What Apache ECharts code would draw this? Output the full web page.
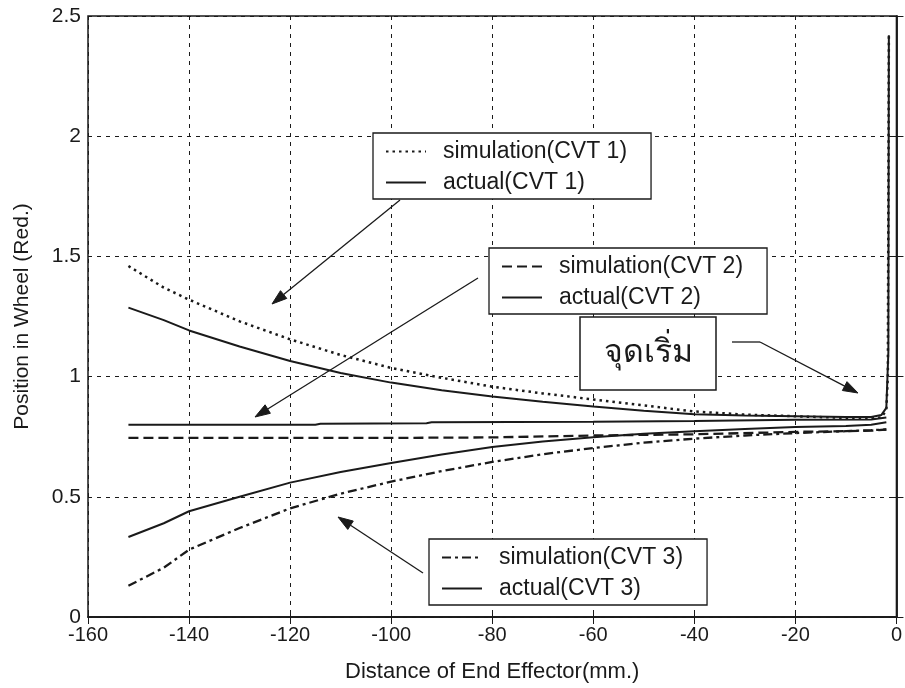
<!DOCTYPE html>
<html><head><meta charset="utf-8">
<script src="https://cdn.jsdelivr.net/npm/echarts@6/dist/echarts.min.js"></script>
<style>html,body{margin:0;padding:0;background:#fff}#c{width:905px;height:688px}</style>
</head><body><div id="c"></div>
<script>
// ---- data ----
var xTicks = [-160,-140,-120,-100,-80,-60,-40,-20,0];
var yTicks = [0,0.5,1,1.5,2,2.5];

var simCVT1X = [-152,-145,-140,-130,-120,-110,-100,-90,-80,-70,-60,-50,-40,-30,-20,-10,-5,-3,-2,-1.7,-1.5];
var simCVT1Y = [1.46,1.37,1.32,1.23,1.155,1.09,1.036,0.995,0.958,0.93,0.905,0.88,0.855,0.842,0.835,0.828,0.825,0.83,0.86,1.0,2.42];

var actCVT1X = [-152,-145,-140,-130,-120,-110,-100,-90,-80,-70,-60,-50,-40,-30,-20,-10,-5,-3,-2,-1.6,-1.5];
var actCVT1Y = [1.287,1.235,1.192,1.125,1.065,1.015,0.975,0.943,0.917,0.895,0.876,0.858,0.843,0.838,0.835,0.832,0.832,0.84,0.87,1.1,2.42];

var simCVT2X = [-152,-120,-100,-80,-60,-40,-20,-5,-2];
var simCVT2Y = [0.745,0.745,0.745,0.747,0.755,0.76,0.77,0.775,0.78];

var actCVT2X = [-152,-115,-114,-93,-92,-60,-40,-20,-5,-2];
var actCVT2Y = [0.80,0.80,0.804,0.806,0.81,0.812,0.815,0.82,0.822,0.83];

var simCVT3X = [-152,-145,-140,-130,-120,-110,-100,-90,-80,-70,-60,-50,-40,-30,-20,-10,-5,-2];
var simCVT3Y = [0.13,0.205,0.28,0.37,0.452,0.513,0.563,0.607,0.645,0.677,0.703,0.725,0.742,0.755,0.765,0.773,0.777,0.78];

var actCVT3X = [-152,-145,-140,-130,-120,-110,-100,-90,-80,-70,-60,-50,-40,-30,-20,-10,-5,-2];
var actCVT3Y = [0.333,0.39,0.44,0.50,0.559,0.603,0.641,0.676,0.707,0.73,0.748,0.762,0.773,0.782,0.79,0.795,0.80,0.81];

var names = ['simulation(CVT 1)','actual(CVT 1)','simulation(CVT 2)','actual(CVT 2)','simulation(CVT 3)','actual(CVT 3)'];
var startLabel = 'จุดเริ่ม';

function pairs(xs, ys){ return xs.map(function(x,i){ return [x, ys[i]]; }); }

var FONT = 'Liberation Sans, Arial, sans-serif';
var INK = '#1a1a1a';

function lineSeries(name, xs, ys, type, width){
  return {
    name: name, type: 'line', data: pairs(xs, ys), symbol: 'none', smooth: false,
    lineStyle: { color: INK, width: width, type: type },
    itemStyle: { color: INK },
    z: 3, silent: true, animation: false
  };
}

function arrow(x1,y1,x2,y2){
  var dx=x2-x1, dy=y2-y1, L=Math.sqrt(dx*dx+dy*dy), ux=dx/L, uy=dy/L;
  var hl=15, hw=5;
  var bx=x2-ux*hl, by=y2-uy*hl, nx=-uy, ny=ux;
  return [
    { type:'line', shape:{x1:x1,y1:y1,x2:bx,y2:by}, style:{stroke:INK, lineWidth:1.3}, z:100 },
    { type:'polygon', shape:{points:[[x2,y2],[bx+nx*hw,by+ny*hw],[bx-nx*hw,by-ny*hw]]}, style:{fill:INK, stroke:INK}, z:100 }
  ];
}

function legendBox(data, left, top){
  return {
    data: data, left: left, top: top, orient: 'vertical', selectedMode: false,
    itemWidth: 40, itemHeight: 14, itemGap: 8,
    padding: [7, 24, 5, 12],
    itemStyle: { opacity: 0 },
    backgroundColor: '#fff', borderColor: INK, borderWidth: 1.3,
    textStyle: { fontFamily: FONT, fontSize: 23, lineHeight: 20, color: INK, padding: [0,0,0,12] },
    z: 50
  };
}

var chart = echarts.init(document.getElementById('c'), null, {renderer:'canvas'});

var graphics = [
  { type:'rect', shape:{x:580,y:317,width:136,height:73}, style:{fill:'#fff', stroke:INK, lineWidth:1.5}, z:90 },
  { type:'text', x:648, y:354, style:{text:startLabel, fontSize:32, fontFamily:'DejaVu Sans, Noto Sans, sans-serif', fill:INK, align:'center', verticalAlign:'middle'}, z:91 },
  { type:'polyline', shape:{points:[[732,342],[760,342]]}, style:{stroke:INK, lineWidth:1.3}, z:100 }
].concat(arrow(760,342,858,393))
 .concat(arrow(400,200,272,304))
 .concat(arrow(478,278,255,417))
 .concat(arrow(423,573,338,517));

var option = {
  backgroundColor: '#fff',
  animation: false,
  grid: { left: 88, right: 6, top: 16, bottom: 62, show: true, borderColor: INK, borderWidth: 1.5, backgroundColor: 'transparent' },
  xAxis: [{
    type: 'value', min: -160, max: 0, interval: 20,
    name: 'Distance of End Effector(mm.)', nameLocation: 'middle', nameGap: 44,
    nameTextStyle: { fontFamily: FONT, fontSize: 22, color: INK },
    axisLine: { show: true, lineStyle: { color: INK, width: 1.5 } },
    axisTick: { show: true, inside: true, length: 7, lineStyle: { color: INK } },
    axisLabel: { fontFamily: FONT, fontSize: 20, color: INK, margin: 8,
      formatter: function(v){ return xTicks.indexOf(v) >= 0 ? String(v) : ''; } },
    splitLine: { show: true, lineStyle: { color: INK, type: [4,5], width: 1 } }
  },{
    type: 'value', min: -160, max: 0, interval: 20, position: 'top',
    axisLine: { show: true, lineStyle: { color: INK, width: 1.5 } },
    axisTick: { show: true, inside: true, length: 7, lineStyle: { color: INK } },
    axisLabel: { show: false }, splitLine: { show: false }
  }],
  yAxis: [{
    type: 'value', min: 0, max: 2.5, interval: 0.5,
    name: 'Position in Wheel (Red.)', nameLocation: 'middle', nameGap: 55,
    nameTextStyle: { fontFamily: FONT, fontSize: 21, color: INK },
    axisLine: { show: true, lineStyle: { color: INK, width: 1.5 } },
    axisTick: { show: true, inside: true, length: 7, lineStyle: { color: INK } },
    axisLabel: { fontFamily: FONT, fontSize: 21, color: INK, margin: 7,
      formatter: function(v){ return yTicks.indexOf(v) >= 0 ? String(v) : ''; } },
    splitLine: { show: true, lineStyle: { color: INK, type: [4,5], width: 1 } }
  },{
    type: 'value', min: 0, max: 2.5, interval: 0.5, position: 'right',
    axisLine: { show: true, lineStyle: { color: INK, width: 1.5 } },
    axisTick: { show: true, inside: true, length: 7, lineStyle: { color: INK } },
    axisLabel: { show: false }, splitLine: { show: false }
  }],
  legend: [
    legendBox([names[0], names[1]], 373, 133),
    legendBox([names[2], names[3]], 489, 248),
    legendBox([names[4], names[5]], 429, 539)
  ],
  series: [
    lineSeries(names[0], simCVT1X, simCVT1Y, [2.5,4], 2.5),
    lineSeries(names[1], actCVT1X, actCVT1Y, 'solid', 2),
    lineSeries(names[2], simCVT2X, simCVT2Y, [10,5], 2.3),
    lineSeries(names[3], actCVT2X, actCVT2Y, 'solid', 2),
    lineSeries(names[4], simCVT3X, simCVT3Y, [9,4,3,4], 2.3),
    lineSeries(names[5], actCVT3X, actCVT3Y, 'solid', 2)
  ],
  graphic: graphics
};
chart.setOption(option);
</script></body></html>
